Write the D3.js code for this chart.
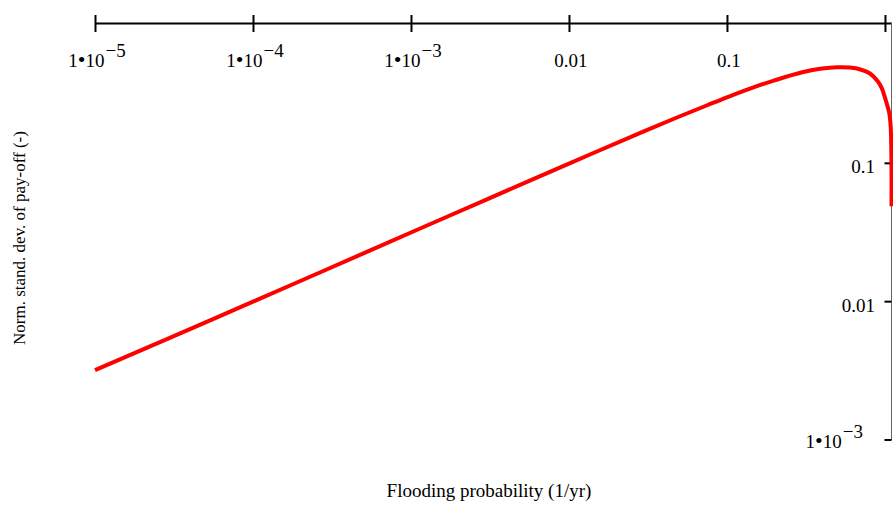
<!DOCTYPE html>
<html>
<head>
<meta charset="utf-8">
<script src="https://cdn.jsdelivr.net/npm/d3@7"></script>
<style>
  body { margin: 0; background: #fff; }
  text { font-family: "Liberation Serif", "Times New Roman", serif; fill: #000; }
</style>
</head>
<body>
<div id="chart"></div>
<script>
// Data
var probability = [1e-5, 3e-5, 1e-4, 3e-4, 1e-3, 3e-3, 0.01, 0.03, 0.05, 0.075, 0.1, 0.15, 0.2, 0.3,
  0.4, 0.5, 0.6, 0.7, 0.8, 0.9, 0.953, 0.99, 1.025, 1.065, 1.087, 1.099, 1.1]
var normStdDev = [0.0032, 0.0055, 0.0100, 0.0173, 0.0316, 0.0547, 0.0995, 0.171, 0.218, 0.263, 0.300, 0.357, 0.398, 0.455,
  0.484, 0.494, 0.492, 0.477, 0.448, 0.392, 0.351, 0.310, 0.272, 0.231, 0.184, 0.106, 0.049]

var xTicks = [1e-5, 1e-4, 1e-3, 0.01, 0.1, 1]
var xTickLabels = [['1', '10', '\u22125'], ['1', '10', '\u22124'], ['1', '10', '\u22123'], ['0.01'], ['0.1'], []]
var yTicks = [0.1, 0.01, 1e-3]
var yTickLabels = [['0.1'], ['0.01'], ['1', '10', '\u22123']]

var width = 893,
  height = 506

var svg = d3.select('#chart').append('svg')
  .attr('width', width)
  .attr('height', height)

// log scales on both axes
var x = d3.scaleLog().domain([1e-5, 1.1]).range([95, 891.5])
var y = d3.scaleLog().domain([1e-3, 1]).range([440, 25])

var axisTop = 23
var axisRight = x(1.1)

// writes "0.01" or "1•10^-5" style labels
function tickLabel(txt, parts) {
  if (parts.length === 1) {
    txt.append('tspan').text(parts[0])
    return
  }
  txt.append('tspan').text(parts[0])
  txt.append('tspan').style('font-size', '22px').text('\u2022')
  txt.append('tspan').text(parts[1])
  txt.append('tspan').attr('dy', -10).attr('dx', 1).text(parts[2])
}

// ---- top x axis ----
var xAxis = svg.append('g')
  .attr('transform', 'translate(0,' + axisTop + ')')
  .call(d3.axisTop(x).tickValues(xTicks).tickFormat('').tickSizeOuter(0))
xAxis.select('.domain').attr('stroke', '#000').attr('stroke-width', 2)
xAxis.selectAll('.tick line')
  .attr('stroke', '#000')
  .attr('stroke-width', 2)
  .attr('y1', 9)
  .attr('y2', -8)

xTicks.forEach(function (t, i) {
  var parts = xTickLabels[i]
  if (!parts.length) return
  var txt = svg.append('text')
    .attr('x', x(t) + 2)
    .attr('y', 67)
    .attr('text-anchor', 'middle')
    .style('font-size', '19px')
  tickLabel(txt, parts)
})

// ---- right y axis ----
svg.append('line')
  .attr('x1', axisRight).attr('x2', axisRight)
  .attr('y1', axisTop).attr('y2', y(1e-3))
  .attr('stroke', '#666')
  .attr('stroke-width', 1)

svg.selectAll('.ytick')
  .data(yTicks)
  .enter()
  .append('line')
  .attr('class', 'ytick')
  .attr('x1', axisRight - 7)
  .attr('x2', axisRight)
  .attr('y1', function (d) { return y(d) })
  .attr('y2', function (d) { return y(d) })
  .attr('stroke', '#000')
  .attr('stroke-width', 2)

yTicks.forEach(function (t, i) {
  var parts = yTickLabels[i]
  var txt = svg.append('text')
    .attr('x', parts.length > 1 ? 863 : 875)
    .attr('y', y(t) + (parts.length > 1 ? 8 : 10))
    .attr('text-anchor', 'end')
    .style('font-size', '19px')
  tickLabel(txt, parts)
})

// ---- the curve ----
var line = d3.line()
  .x(function (d) { return x(d[0]) })
  .y(function (d) { return y(d[1]) })
  .curve(d3.curveCatmullRom.alpha(0.5))

svg.append('path')
  .datum(d3.zip(probability, normStdDev))
  .attr('d', line)
  .attr('fill', 'none')
  .attr('stroke', '#ff0000')
  .attr('stroke-width', 4)

// ---- axis titles ----
svg.append('text')
  .attr('x', 489)
  .attr('y', 497)
  .attr('text-anchor', 'middle')
  .style('font-size', '19px')
  .text('Flooding probability (1/yr)')

svg.append('text')
  .attr('transform', 'translate(25,238) rotate(-90)')
  .attr('text-anchor', 'middle')
  .style('font-size', '17px')
  .text('Norm. stand. dev. of pay-off (-)')
</script>
</body>
</html>
